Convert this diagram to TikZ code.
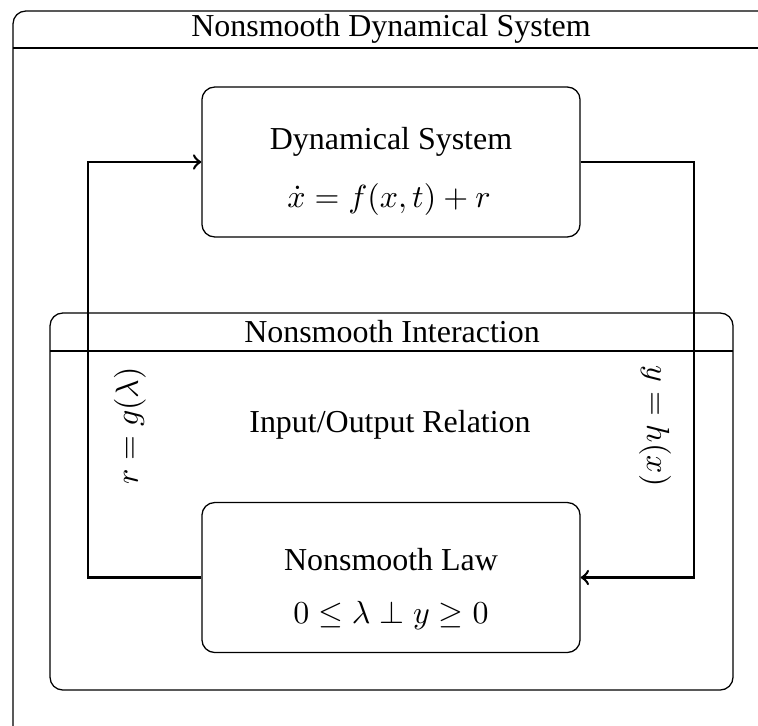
\documentclass[tikz,border=0pt]{standalone}
\usepackage{fontspec}
\setmainfont{Liberation Serif}
\usepackage{tikz}

\begin{document}
\begin{tikzpicture}[x=0.011cm, y=-0.011cm,
    block/.style={draw, rounded corners, minimum width=4.16cm, minimum height=1.65cm},
    link/.style={->, thick}]
  \clip (0,0) rectangle (758,725);

  % outer frame
  \draw[rounded corners] (13,11) rectangle (772,740);
  \draw (13,48) -- (772,48);
  \node[anchor=base] (systitle) at (391,37) {Nonsmooth Dynamical System};

  % interaction frame
  \draw[rounded corners] (50,313) rectangle (733,690);
  \draw (50,351) -- (733,351);
  \node (inttitle) at (392,332) {Nonsmooth Interaction};
  \node (iorel) at (390,425) {Input/Output Relation};

  \node[block] (dyn) at (391,162) {};
  \node[anchor=base] (dyntitle) at (391,150) {Dynamical System};
  \node[anchor=base] (dyneq) at (389,207) {$\dot{x} = f(x,t) + r$};

  \node[block] (nlaw) at (391,577.5) {};
  \node[anchor=base] (nlawtitle) at (391,570) {Nonsmooth Law};
  \node[anchor=base] (nlaweq) at (391,623) {$0 \leq \lambda \perp y \geq 0$};

  \coordinate (lft) at (88,415);
  \coordinate (rgt) at (694,415);
  \draw[link] (nlaw.west) -| (lft) |- (dyn.west);
  \draw[link] (dyn.east) -| (rgt) |- (nlaw.east);

  \node[rotate=90] (rlab) at (130,426) {$r = g(\lambda)$};
  \node[rotate=-90] (ylab) at (655,426) {$y = h(x)$};
\end{tikzpicture}
\end{document}
